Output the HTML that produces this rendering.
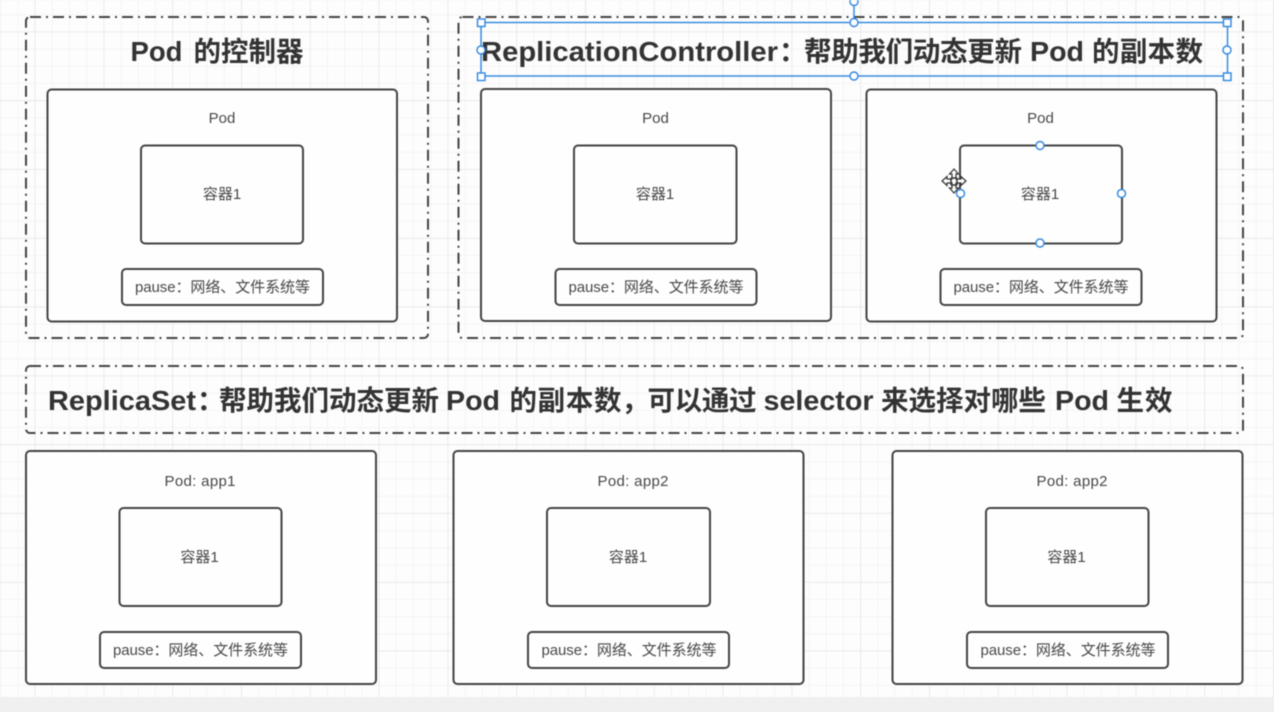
<!DOCTYPE html>
<html><head><meta charset="utf-8"><style>
html,body{margin:0;padding:0;background:#f0f0f0;width:1274px;height:712px;overflow:hidden}
svg{display:block;filter:blur(0.4px)}
text{font-family:"Liberation Sans","Noto Sans CJK SC",sans-serif;fill:#484848}
.s{font-size:15px;text-anchor:middle}
.t{font-size:27.5px;font-weight:bold;fill:#333}
.o{fill:none;stroke:#444;stroke-width:2;stroke-dasharray:11 5 2 5}
.b{fill:#fdfefd;stroke:#444;stroke-width:2}
.h{fill:#fff;stroke:#2f86e0;stroke-width:1.4}
</style></head><body>
<svg width="1274" height="712" viewBox="0 0 1274 712" xmlns="http://www.w3.org/2000/svg">
<defs>
<pattern id="g" x="0.4" y="-2.9" width="17.2" height="17.2" patternUnits="userSpaceOnUse"><path d="M0 0V17.2M0 0H17.2" fill="none" stroke="#eeefee" stroke-width="1.2"/></pattern>
<pattern id="G" x="34.8" y="31.5" width="68.8" height="68.8" patternUnits="userSpaceOnUse"><path d="M0 0V68.8M0 0H68.8" fill="none" stroke="#e3e4e3" stroke-width="1.2"/></pattern>
</defs>
<rect width="1274" height="697" fill="#fcfdfc"/>
<rect width="1274" height="697" fill="url(#g)"/>
<rect width="1274" height="697" fill="url(#G)"/>

<rect class="o" x="26" y="17" width="402" height="321" rx="4"/>
<rect class="o" x="458.5" y="17" width="784.5" height="321" rx="4"/>
<rect class="o" x="26" y="366" width="1217" height="67" rx="4"/>

<text class="t" y="61"><tspan x="130.5">Pod</tspan> <tspan x="193.5">的控制器</tspan></text>
<text class="t" y="61"><tspan x="481" textLength="297" lengthAdjust="spacingAndGlyphs">ReplicationController</tspan><tspan x="779">：</tspan><tspan x="804" textLength="218">帮助我们动态更新</tspan> <tspan x="1030" textLength="54" lengthAdjust="spacingAndGlyphs">Pod</tspan> <tspan x="1092" textLength="111">的副本数</tspan></text>
<text class="t" y="410"><tspan x="48" textLength="148" lengthAdjust="spacingAndGlyphs">ReplicaSet</tspan><tspan x="197">：</tspan><tspan x="219" textLength="220">帮助我们动态更新</tspan> <tspan x="446" textLength="54" lengthAdjust="spacingAndGlyphs">Pod</tspan> <tspan x="509.5" textLength="112">的副本数</tspan><tspan x="621.5">，</tspan><tspan x="647.5" textLength="109">可以通过</tspan> <tspan x="763.5" textLength="110" lengthAdjust="spacingAndGlyphs">selector</tspan> <tspan x="881" textLength="165">来选择对哪些</tspan> <tspan x="1055" textLength="54" lengthAdjust="spacingAndGlyphs">Pod</tspan> <tspan x="1116.5" textLength="56">生效</tspan></text>

<rect class="b" x="47.5" y="89.5" width="349.5" height="232" rx="4"/>
<rect class="b" x="141" y="145.5" width="162" height="98" rx="4"/>
<rect class="b" x="122" y="269" width="201" height="36" rx="4"/>
<text class="s" x="222" y="123">Pod</text>
<text class="s" x="222" y="199">容器1</text>
<text class="s" x="222.5" y="292" textLength="175">pause：网络、文件系统等</text>

<rect class="b" x="481" y="89" width="350" height="232" rx="4"/>
<rect class="b" x="574" y="145.5" width="162.5" height="98" rx="4"/>
<rect class="b" x="555.5" y="269" width="201" height="36" rx="4"/>
<text class="s" x="655.5" y="123">Pod</text>
<text class="s" x="655" y="199">容器1</text>
<text class="s" x="656" y="292" textLength="175">pause：网络、文件系统等</text>

<rect class="b" x="866.5" y="89.5" width="350" height="232" rx="4"/>
<rect class="b" x="960" y="145.5" width="162" height="98" rx="4"/>
<rect class="b" x="940.5" y="269" width="201" height="36" rx="4"/>
<text class="s" x="1040.5" y="123">Pod</text>
<text class="s" x="1040" y="199">容器1</text>
<text class="s" x="1041" y="292" textLength="175">pause：网络、文件系统等</text>

<rect class="b" x="26" y="451" width="350" height="233" rx="4"/>
<rect class="b" x="119.5" y="508" width="162" height="98" rx="4"/>
<rect class="b" x="100" y="632" width="201" height="36" rx="4"/>
<text class="s" x="200" y="486" textLength="71">Pod: app1</text>
<text class="s" x="199.5" y="562">容器1</text>
<text class="s" x="200.5" y="655" textLength="175">pause：网络、文件系统等</text>

<rect class="b" x="453.5" y="451" width="350" height="233" rx="4"/>
<rect class="b" x="547" y="508" width="163" height="98" rx="4"/>
<rect class="b" x="528" y="632" width="201" height="36" rx="4"/>
<text class="s" x="633" y="486" textLength="71">Pod: app2</text>
<text class="s" x="628" y="562">容器1</text>
<text class="s" x="629" y="655" textLength="175">pause：网络、文件系统等</text>

<rect class="b" x="892.5" y="451" width="350" height="233" rx="4"/>
<rect class="b" x="986" y="508" width="162.5" height="98" rx="4"/>
<rect class="b" x="967" y="632" width="201" height="36" rx="4"/>
<text class="s" x="1072" y="486" textLength="71">Pod: app2</text>
<text class="s" x="1066.5" y="562">容器1</text>
<text class="s" x="1068" y="655" textLength="175">pause：网络、文件系统等</text>

<rect x="481" y="22.5" width="746.5" height="53.5" fill="none" stroke="#2f86e0" stroke-width="1.4"/>
<line x1="854" y1="5" x2="854" y2="22" stroke="#2f86e0" stroke-width="1.4"/>
<circle class="h" cx="854" cy="1.5" r="4"/>
<rect class="h" x="477.5" y="19" width="7.5" height="7.5"/>
<rect class="h" x="1223.5" y="19" width="7.5" height="7.5"/>
<rect class="h" x="477.5" y="73" width="7.5" height="7.5"/>
<rect class="h" x="1223.5" y="73" width="7.5" height="7.5"/>
<circle class="h" cx="854" cy="22.5" r="4"/>
<circle class="h" cx="854" cy="76" r="4"/>
<circle class="h" cx="481" cy="50" r="4"/>
<circle class="h" cx="1227" cy="50" r="4"/>

<circle class="h" cx="1040" cy="145.5" r="4"/>
<circle class="h" cx="1040" cy="243" r="4"/>
<circle class="h" cx="1121.5" cy="193.5" r="4"/>

<path d="M954 169l4.500 5h-2.500v5h5v-2.500l5 4.500-5 4.500v-2.500h-5v5h2.500l-4.500 5-4.500-5h2.500v-5h-5v2.500l-5-4.500 5-4.500v2.500h5v-5h-2.500z" fill="#fff" stroke="#333" stroke-width="1.200"/>
<path d="M951 178v7M957 178v7M951 178h6M951 185h6" fill="none" stroke="#333" stroke-width="1.500"/>
<circle class="h" cx="960.5" cy="193.5" r="4"/>
</svg>
</body></html>
